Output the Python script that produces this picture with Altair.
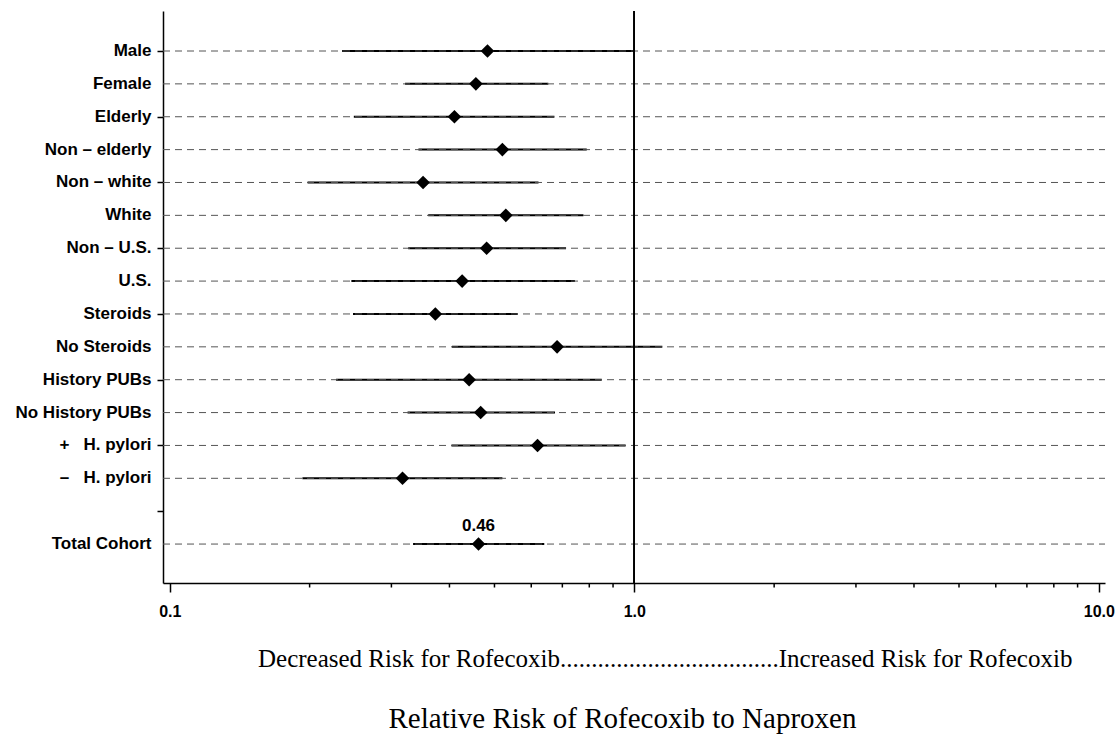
import altair as alt
import pandas as pd

labels = ["Male", "Female", "Elderly", "Non – elderly", "Non – white", "White",
          "Non – U.S.", "U.S.", "Steroids", "No Steroids", "History PUBs",
          "No History PUBs", "+\u00a0\u00a0 H. pylori", "–\u00a0\u00a0 H. pylori", "", "Total Cohort"]
rr = [0.483, 0.456, 0.410, 0.520, 0.351, 0.529, 0.481, 0.426, 0.373, 0.682,
      0.441, 0.467, 0.619, 0.317, None, 0.462]
lo = [0.235, 0.321, 0.249, 0.343, 0.198, 0.360, 0.326, 0.246, 0.248, 0.405,
      0.228, 0.325, 0.404, 0.193, None, 0.334]
hi = [1.000, 0.653, 0.673, 0.790, 0.622, 0.777, 0.713, 0.745, 0.561, 1.149,
      0.851, 0.675, 0.958, 0.520, None, 0.640]
major_ticks = [0.1, 1.0, 10.0]
minor_ticks = [0.2, 0.3, 0.4, 0.5, 0.6, 0.7, 0.8, 0.9, 2, 3, 4, 5, 6, 7, 8, 9]
annotation = "Decreased Risk for Rofecoxib" + "." * 35 + "Increased Risk for Rofecoxib"
x_title = "Relative Risk of Rofecoxib to Naproxen"

rows = pd.DataFrame({"pos": list(range(len(labels))), "label": labels,
                     "rr": rr, "lo": lo, "hi": hi})
data_rows = rows[rows["label"] != ""].reset_index(drop=True)
minor_df = pd.DataFrame({"m": minor_ticks})

W, H = 942, 572
xscale = alt.Scale(type="log", domain=[0.0967, 10.31], nice=False)
yscale = alt.Scale(domain=[-1.217, 16.185], reverse=True, nice=False, zero=False)

x_axis = alt.Axis(values=major_ticks, format=".1f", labelFont="Liberation Sans",
                  labelFontSize=16, labelFontWeight="bold", labelColor="black",
                  labelPadding=11, tickSize=9, tickWidth=1.5, tickColor="black",
                  domainColor="black", domainWidth=1.5, grid=False,
                  labelOverlap=False,
                  title=x_title, titleFont="Liberation Serif", titleFontSize=29,
                  titleFontWeight="normal", titleColor="black",
                  titleX=459, titleY=144, titleAlign="center",
                  titleBaseline="alphabetic")
y_axis = alt.Axis(values=list(range(len(labels))), labels=False,
                  tickSize=6, tickWidth=1.5, tickColor="black",
                  domainColor="black", domainWidth=1.5, grid=False, title=None)

# layer carrying the axes comes first so its explicit axis settings win the merge
ci = alt.Chart(data_rows).mark_rule(color="black", strokeWidth=2).encode(
    x=alt.X("lo:Q", scale=xscale, axis=x_axis),
    x2="hi:Q",
    y=alt.Y("pos:Q", scale=yscale, axis=y_axis),
)

grid = alt.Chart(data_rows).mark_rule(strokeDash=[7, 5], color="#555", strokeWidth=1).encode(
    x=alt.value(0), x2=alt.value(W),
    y=alt.Y("pos:Q"),
)

ref = alt.Chart(data_rows).mark_rule(color="black", strokeWidth=1).encode(
    x=alt.datum(1.0),
    y=alt.value(0), y2=alt.value(H),
)

pts = alt.Chart(data_rows).mark_point(shape="diamond", filled=True, color="black",
                                      size=185, opacity=1).encode(
    x=alt.X("rr:Q"),
    y=alt.Y("pos:Q"),
)

row_labels = alt.Chart(data_rows).mark_text(
    align="right", baseline="middle", font="Liberation Sans", fontSize=17,
    fontWeight="bold", color="black").encode(
    x=alt.value(-11.5),
    y=alt.Y("pos:Q"),
    text="label:N",
)

total_lbl = alt.Chart(data_rows).transform_filter(
    alt.datum.label == "Total Cohort"
).mark_text(dy=-18, font="Liberation Sans", fontSize=17, fontWeight="bold",
            color="black", baseline="middle").encode(
    x=alt.X("rr:Q"),
    y=alt.Y("pos:Q"),
    text=alt.Text("rr:Q", format=".2f"),
)

minor = alt.Chart(minor_df).mark_rule(color="black", strokeWidth=1.5).encode(
    x=alt.X("m:Q"),
    y=alt.value(H), y2=alt.value(H + 4.5),
)

annot = alt.Chart(pd.DataFrame({"t": [annotation]})).mark_text(
    font="Liberation Serif", fontSize=25, color="black", align="left",
    baseline="alphabetic").encode(
    x=alt.value(95), y=alt.value(656), text="t:N",
)

chart = alt.layer(ci, grid, ref, pts, row_labels, total_lbl, minor, annot).properties(
    width=W, height=H,
    autosize=alt.AutoSizeParams(type="none"),
    padding={"left": 163, "top": 11, "right": 15, "bottom": 153},
    background="white",
).configure_view(stroke=None)

chart.save("out.html", embed_options={"renderer": "svg", "actions": False})
